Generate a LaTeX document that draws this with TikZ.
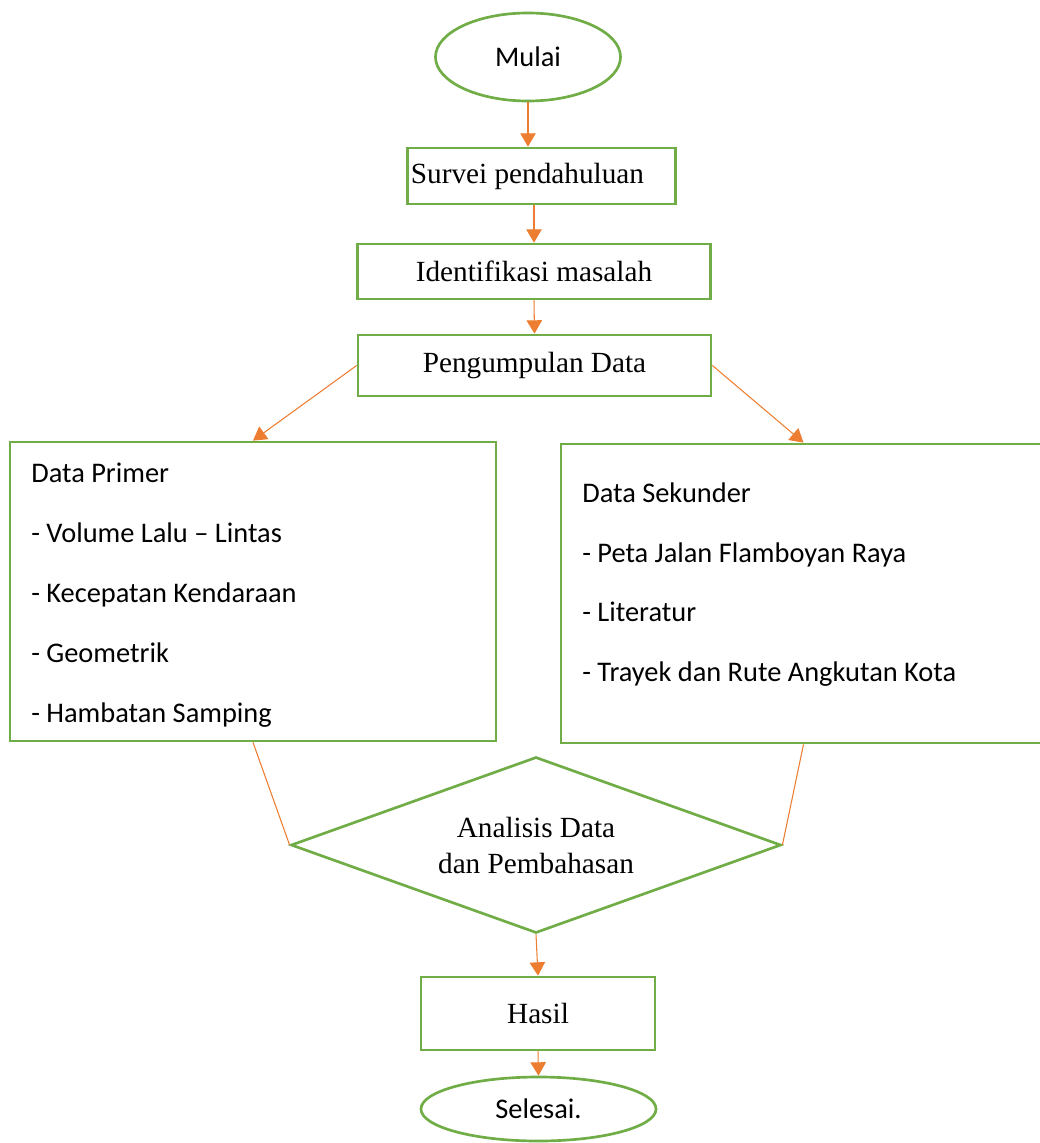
\documentclass[tikz,border=0pt]{standalone}
\usepackage{fontspec}
\setmainfont{Liberation Serif}
\newfontfamily\calibri{Carlito}
\usepackage{xcolor}
\usepackage{tikz}
\usetikzlibrary{shapes.geometric, arrows.meta}
\definecolor{boxgreen}{HTML}{70AD47}
\definecolor{arrorange}{HTML}{ED7D31}

\begin{document}
\begin{tikzpicture}[
      x=0.025cm, y=-0.025cm,
      base/.style={draw=boxgreen, line width=1.9pt, inner sep=0pt, align=center, fill=white},
      proc/.style={base, rectangle, font=\fontsize{20.8}{25}\selectfont},
      term/.style={base, ellipse, font=\calibri\fontsize{20.2}{24}\selectfont},
      dec/.style={base, diamond, aspect=2.78, font=\fontsize{20.8}{25.6}\selectfont},
      databox/.style={base, rectangle, minimum height=7.475cm},
      item/.style={anchor=base west, inner sep=0pt, font=\calibri\fontsize{20.2}{24}\selectfont},
      a/.style={-{Triangle[length=9.5pt, width=11pt]}, line width=0.75pt, draw=arrorange},
      ln/.style={line width=0.75pt, draw=arrorange}
    ]

    \useasboundingbox (0,0) rectangle (1039,1143);

    % ---- Kolom tengah: mulai -> pengumpulan data ----
    \node[term] (mulai)  at (528,57)    [minimum width=4.625cm, minimum height=2.2cm] {Mulai};
    \node[proc] (survei) at (541.5,176) [minimum width=6.7cm, minimum height=1.4cm] {Survei pendahuluan\hspace{0.7cm}};
    \node[proc] (ident)  at (534,271.5) [minimum width=8.825cm, minimum height=1.375cm] {Identifikasi masalah};
    \node[proc] (kumpul) at (534.5,365.5) [minimum width=8.825cm, minimum height=1.525cm] {Pengumpulan Data};

    \draw[a] (mulai.south) -- (mulai.south |- survei.north);
    \draw[a] (ident.north |- survei.south) -- (ident.north);
    \draw[a] (ident.south) -- (kumpul.north);

    % ---- Data primer dan sekunder ----
    \node[databox] (primer)   at (253,591.5)   [minimum width=12.15cm] {};
    \node[databox] (sekunder) at (803.5,593.5) [minimum width=12.125cm] {};

    \node[item] (p0) at (31,482) {Data Primer};
    \node[item] (p1) at (31,542) {- Volume Lalu – Lintas};
    \node[item] (p2) at (31,602) {- Kecepatan Kendaraan};
    \node[item] (p3) at (31,662) {- Geometrik};
    \node[item] (p4) at (31,722) {- Hambatan Samping};

    \node[item] (s0) at (582,502) {Data Sekunder};
    \node[item] (s1) at (582,562) {- Peta Jalan Flamboyan Raya};
    \node[item] (s2) at (582,621.5) {- Literatur};
    \node[item] (s3) at (582,681) {- Trayek dan Rute Angkutan Kota};

    \draw[a] (kumpul.west) -- (primer.north);
    \draw[a] (kumpul.east) -- (sekunder.north);

    % ---- Analisis, hasil, selesai ----
    \node[dec]  (analisis) at (536,845) [minimum width=12.25cm, minimum height=4.4cm] {Analisis Data\\dan Pembahasan};
    \node[proc] (hasil)    at (538,1013.5) [minimum width=5.85cm, minimum height=1.825cm] {Hasil};
    \node[term] (selesai)  at (538.5,1109) [minimum width=5.875cm, minimum height=1.6cm] {Selesai.};

    \draw[ln] (primer.south) -- (analisis.west);
    \draw[ln] (sekunder.south) -- (analisis.east);
    \draw[a] (analisis.south) -- (hasil.north);
    \draw[a] (hasil.south) -- (selesai.north);

    \end{tikzpicture}
\end{document}
